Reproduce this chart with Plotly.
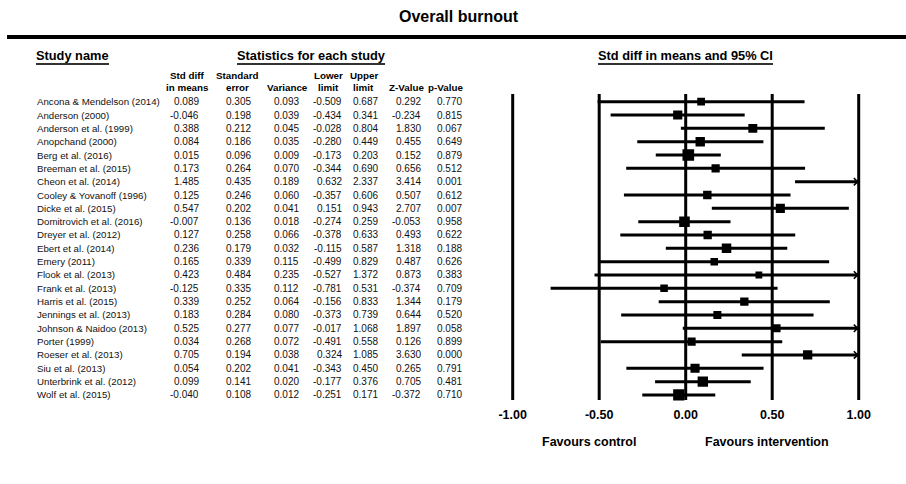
import plotly.graph_objects as go

# ---------------- data ----------------
studies = [
    "Ancona & Mendelson (2014)", "Anderson (2000)", "Anderson et al. (1999)",
    "Anopchand (2000)", "Berg et al. (2016)", "Breeman et al. (2015)",
    "Cheon et al. (2014)", "Cooley & Yovanoff (1996)", "Dicke et al. (2015)",
    "Domitrovich et al. (2016)", "Dreyer et al. (2012)", "Ebert et al. (2014)",
    "Emery (2011)", "Flook et al. (2013)", "Frank et al. (2013)",
    "Harris et al. (2015)", "Jennings et al. (2013)", "Johnson & Naidoo (2013)",
    "Porter (1999)", "Roeser et al. (2013)", "Siu et al. (2013)",
    "Unterbrink et al. (2012)", "Wolf et al. (2015)",
]
smd = [0.089, -0.046, 0.388, 0.084, 0.015, 0.173, 1.485, 0.125, 0.547, -0.007, 0.127, 0.236,
       0.165, 0.423, -0.125, 0.339, 0.183, 0.525, 0.034, 0.705, 0.054, 0.099, -0.040]
std_err = [0.305, 0.198, 0.212, 0.186, 0.096, 0.264, 0.435, 0.246, 0.202, 0.136, 0.258, 0.179,
           0.339, 0.484, 0.335, 0.252, 0.284, 0.277, 0.268, 0.194, 0.202, 0.141, 0.108]
variance = [0.093, 0.039, 0.045, 0.035, 0.009, 0.070, 0.189, 0.060, 0.041, 0.018, 0.066, 0.032,
            0.115, 0.235, 0.112, 0.064, 0.080, 0.077, 0.072, 0.038, 0.041, 0.020, 0.012]
lower = [-0.509, -0.434, -0.028, -0.280, -0.173, -0.344, 0.632, -0.357, 0.151, -0.274, -0.378, -0.115,
         -0.499, -0.527, -0.781, -0.156, -0.373, -0.017, -0.491, 0.324, -0.343, -0.177, -0.251]
upper = [0.687, 0.341, 0.804, 0.449, 0.203, 0.690, 2.337, 0.606, 0.943, 0.259, 0.633, 0.587,
         0.829, 1.372, 0.531, 0.833, 0.739, 1.068, 0.558, 1.085, 0.450, 0.376, 0.171]
z_value = [0.292, -0.234, 1.830, 0.455, 0.152, 0.656, 3.414, 0.507, 2.707, -0.053, 0.493, 1.318,
           0.487, 0.873, -0.374, 1.344, 0.644, 1.897, 0.126, 3.630, 0.265, 0.705, -0.372]
p_value = [0.770, 0.815, 0.067, 0.649, 0.879, 0.512, 0.001, 0.612, 0.007, 0.958, 0.622, 0.188,
           0.626, 0.383, 0.709, 0.179, 0.520, 0.058, 0.899, 0.000, 0.791, 0.481, 0.710]
tick_vals = [-1.0, -0.5, 0.0, 0.5, 1.0]
tick_text = ["-1.00", "-0.50", "0.00", "0.50", "1.00"]

# ---------------- layout helpers ----------------
W, H = 906, 484
FONT = "Liberation Sans, Arial, sans-serif"
XMIN, XMAX = -1.0, 1.0

def px(x):
    return x / W

def py(y):
    return 1 - y / H

rows = list(range(len(studies)))

fig = go.Figure()

# CI lines (clipped to the displayed range)
lx, ly = [], []
for i, (lo, hi) in enumerate(zip(lower, upper)):
    lx += [max(lo, XMIN), min(hi, XMAX), None]
    ly += [i, i, None]
fig.add_trace(go.Scatter(x=lx, y=ly, mode="lines",
                         line=dict(color="black", width=3), hoverinfo="skip",
                         showlegend=False))

# point estimates, square size from (random-effects style) weight
sizes = [6 + 0.22 / (v + 0.03) for v in variance]
fig.add_trace(go.Scatter(x=smd, y=rows, mode="markers",
                         marker=dict(symbol="square", size=sizes, color="black", opacity=1,
                                     line=dict(width=0)),
                         showlegend=False, cliponaxis=True,
                         text=studies, hoverinfo="text+x"))

shapes = []
annotations = []

# vertical reference lines at ticks
for t in tick_vals:
    shapes.append(dict(type="line", xref="x", yref="y", x0=t, x1=t, y0=-0.58, y1=22.37,
                       line=dict(color="black", width=3), layer="below"))

# arrows for CIs running off the right side
for i, hi in enumerate(upper):
    if hi > XMAX:
        annotations.append(dict(x=XMAX, y=i, xref="x", yref="y",
                                ax=XMAX - 0.06, ay=i, axref="x", ayref="y",
                                text="", showarrow=True, arrowhead=4,
                                arrowsize=1.1, arrowwidth=1.3, arrowcolor="black",
                                standoff=0, startstandoff=0))

# title and top rule
annotations.append(dict(text="<b>Overall burnout</b>", x=px(459), y=py(16), xref="paper", yref="paper",
                        showarrow=False, xanchor="center", yanchor="middle",
                        font=dict(family=FONT, size=16, color="black")))
shapes.append(dict(type="line", xref="paper", yref="paper", x0=px(7), x1=px(906),
                   y0=py(37), y1=py(37), line=dict(color="black", width=4)))

# section headers with underlines
for txt, xc, x0, x1 in [("Study name", 72.5, 36, 109),
                        ("Statistics for each study", 311, 237, 385),
                        ("Std diff in means and 95% CI", 685.5, 598, 773)]:
    annotations.append(dict(text="<b>" + txt + "</b>", x=px(xc), y=py(55.5), xref="paper", yref="paper",
                            showarrow=False, xanchor="center", yanchor="middle",
                            font=dict(family=FONT, size=12.8, color="black")))
    shapes.append(dict(type="line", xref="paper", yref="paper", x0=px(x0), x1=px(x1),
                       y0=py(64), y1=py(64), line=dict(color="#333", width=2)))

# column headers
col_heads = [("Std diff", "in means", 187), ("Standard", "error", 237), ("", "Variance", 287),
             ("Lower", "limit", 328.5), ("Upper", "limit", 363.5), ("", "Z-Value", 406),
             ("", "p-Value", 445)]
for l1, l2, xc in col_heads:
    for txt, yy in [(l1, 75.5), (l2, 87)]:
        if txt:
            annotations.append(dict(text="<b>" + txt + "</b>", x=px(xc), y=py(yy), xref="paper", yref="paper",
                                    showarrow=False, xanchor="center", yanchor="middle",
                                    font=dict(family=FONT, size=9.8, color="black")))

# table body
cols = [(smd, 201), (std_err, 253), (variance, 301), (lower, 344), (upper, 380),
        (z_value, 423), (p_value, 464)]
for i, name in enumerate(studies):
    annotations.append(dict(text=name, x=px(35), y=i, xref="paper", yref="y",
                            showarrow=False, xanchor="left", yanchor="middle",
                            font=dict(family=FONT, size=9.7, color="#111")))
    for arr, xr in cols:
        annotations.append(dict(text=f"{arr[i]:.3f}", x=px(xr), y=i, xref="paper", yref="y",
                                showarrow=False, xanchor="right", yanchor="middle",
                                font=dict(family=FONT, size=10, color="#111")))

# favours labels
for txt, xc in [("Favours control", 589), ("Favours intervention", 767)]:
    annotations.append(dict(text="<b>" + txt + "</b>", x=px(xc), y=py(442), xref="paper", yref="paper",
                            showarrow=False, xanchor="center", yanchor="middle",
                            font=dict(family=FONT, size=12.5, color="black")))

# axis geometry: x=-1 at 512.7px, x=1 at 858.7px ; row 0 at 101.7px, spacing 13.33px
scale = (858.7 - 512.7) / 2.0
xr0, xr1 = -1.02, 1.02
dom_x0 = (512.7 + (xr0 + 1) * scale) / W
dom_x1 = (512.7 + (xr1 + 1) * scale) / W
rstep = 13.33
yr_top, yr_bot = -0.8, 22.6
dom_y1 = py(101.7 + yr_top * rstep)
dom_y0 = py(101.7 + yr_bot * rstep)

fig.update_layout(
    width=W, height=H,
    margin=dict(l=0, r=0, t=0, b=0, pad=0, autoexpand=False),
    paper_bgcolor="white", plot_bgcolor="white",
    shapes=shapes, annotations=annotations,
    showlegend=False,
    xaxis=dict(domain=[dom_x0, dom_x1], range=[xr0, xr1], tickvals=tick_vals, ticktext=tick_text,
               showgrid=False, zeroline=False, showline=False,
               ticks="outside", ticklen=0, tickcolor="rgba(0,0,0,0)",
               tickfont=dict(family=FONT, size=12.5, color="black", weight="bold"),
               fixedrange=True),
    yaxis=dict(domain=[dom_y0, dom_y1], range=[yr_bot, yr_top], showgrid=False, zeroline=False,
               showline=False, showticklabels=False, ticks="", fixedrange=True),
)

fig.write_html("out.html", config={"displayModeBar": False},
               post_script="document.body.style.margin='0px';document.body.style.overflow='hidden';")
